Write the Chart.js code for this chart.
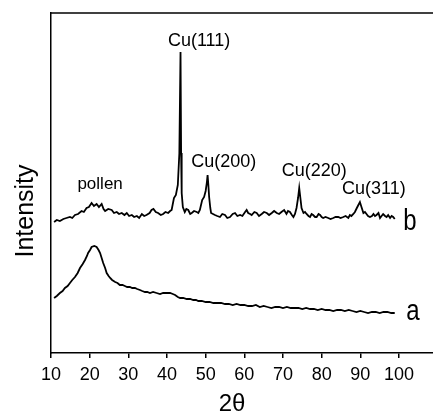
<!DOCTYPE html>
<html>
<head>
<meta charset="utf-8">
<script src="https://cdn.jsdelivr.net/npm/chart.js@4.4.0/dist/chart.umd.min.js"></script>
<style>
  body { margin: 0; background: #fff; }
  #wrap { width: 433px; height: 414px; }
</style>
</head>
<body>
<div id="wrap"><canvas id="xrd"></canvas></div>
<script>
// x-axis tick labels (2 theta)
const xTicks = [10, 20, 30, 40, 50, 60, 70, 80, 90, 100];

// curve b: Cu on pollen (2 theta, intensity in arbitrary units)
const bTheta = [10.8, 11.5, 12.3, 13.2, 14.0, 14.9, 15.5, 16.2, 17.0, 17.9, 18.5, 19.2, 19.8, 20.5, 21.1, 21.8, 22.4, 23.1, 23.6, 24.0,
  24.8, 25.7, 26.3, 27.0, 27.6, 28.3, 29.0, 29.6, 30.2, 30.9, 31.5, 32.2, 32.8, 33.5, 34.1, 34.7, 35.5, 36.0, 36.5, 37.1,
  37.7, 38.4, 39.0, 39.6, 40.3, 40.8, 41.2, 41.8, 42.3, 42.8, 43.2, 43.5, 43.65, 43.8, 44.1, 44.6, 45.0, 45.5, 46.0, 46.4,
  47.0, 47.7, 48.1, 48.5, 49.1, 49.6, 50.0, 50.3, 50.5, 50.7, 50.9, 51.2, 51.4, 51.9, 52.4, 53.0, 53.7, 54.3, 55.0, 55.6,
  56.3, 57.0, 57.6, 58.2, 58.9, 59.5, 60.2, 60.6, 61.0, 61.5, 61.9, 62.6, 63.2, 63.8, 64.5, 65.1, 65.8, 66.4, 67.1, 67.7,
  68.4, 69.0, 69.6, 70.3, 70.9, 71.3, 71.8, 72.3, 72.7, 73.1, 73.5, 73.9, 74.2, 74.5, 74.8, 75.3, 75.7, 76.1, 76.6, 77.0,
  77.4, 77.8, 78.3, 78.7, 79.2, 79.6, 80.0, 80.4, 81.0, 81.7, 82.3, 83.0, 83.6, 84.3, 84.9, 85.6, 86.2, 86.9, 87.3, 87.7,
  88.2, 88.6, 89.1, 89.5, 89.9, 90.3, 90.8, 91.2, 91.6, 92.0, 92.5, 93.0, 93.4, 93.8, 94.2, 94.7, 95.1, 95.5, 95.9, 96.4,
  96.8, 97.2, 97.7, 98.1, 98.5, 98.9];
const bIntensity = [131, 133, 132, 134, 135, 136, 135, 138, 139, 142, 141, 145, 146, 150, 147, 149, 146, 149, 144, 142,
  144, 143, 140, 141, 139, 140, 138, 140, 137, 138, 136, 137, 135, 139, 137, 138, 140, 143, 144, 141,
  140, 138, 139, 141, 140, 142, 143, 155, 158, 168, 200, 301, 200, 160, 146, 141, 144, 143, 139, 140,
  142, 141, 140, 143, 153, 156, 162, 170, 178, 168, 156, 145, 140, 139, 138, 137, 136, 139, 138, 135,
  136, 139, 140, 137, 138, 137, 141, 143, 140, 139, 138, 141, 140, 137, 139, 141, 140, 138, 140, 142,
  140, 139, 141, 143, 139, 142, 141, 138, 136, 139, 145, 155, 165, 155, 145, 140, 141, 139, 137, 136,
  139, 138, 136, 136, 139, 138, 136, 135, 136, 135, 134, 135, 136, 136, 135, 136, 137, 135, 138, 137,
  139, 141, 145, 148, 151, 146, 140, 141, 139, 137, 136, 137, 139, 137, 138, 140, 135, 137, 139, 137,
  136, 138, 135, 137, 136, 134];

// curve a: pollen only
const aTheta = [10.8, 11.5, 12.3, 13.0, 13.6, 14.3, 14.9, 15.5, 16.2, 16.9, 17.5, 18.2, 18.8, 19.3, 19.6, 20.1, 20.5, 21.2, 21.8, 22.3,
  22.7, 23.1, 23.5, 24.0, 24.4, 24.9, 25.3, 25.8, 26.6, 27.2, 27.8, 28.5, 29.1, 29.7, 30.4, 31.0, 31.7, 32.3, 33.0, 33.6,
  34.3, 34.9, 35.6, 36.4, 37.3, 38.2, 39.0, 39.9, 40.8, 41.5, 42.1, 42.8, 43.4, 44.2, 45.1, 46.0, 46.8, 47.5, 48.1, 49.0,
  50, 51, 52, 53, 54, 55, 56, 57, 58, 59, 60, 61, 62, 63, 64, 65, 66, 67, 68, 69,
  70, 71, 72, 73, 74, 75, 76, 77, 78, 79, 80, 81, 82, 83, 84, 85, 86, 87, 88, 89,
  90, 91, 92, 93, 94, 95, 96, 97, 98, 98.9];
const aIntensity = [55, 57, 60, 62, 65, 67, 70, 73, 76, 80, 85, 89, 93, 97, 100, 103, 106, 107, 106, 103,
  100, 95, 90, 85, 80, 77, 75, 73, 71, 70, 68, 68, 67, 66, 66, 65, 65, 64, 63, 62,
  61, 61, 60, 61, 60, 59, 60, 60, 60, 59, 58, 56, 55, 55, 54, 54, 53, 53, 52, 52,
  51, 51, 50, 50, 50, 49, 49, 48, 49, 48, 48, 47, 47, 48, 46, 47, 46, 45, 46, 46,
  45, 46, 45, 45, 45, 44, 45, 44, 44, 43, 44, 43, 43, 42, 43, 43, 42, 43, 42, 41,
  42, 41, 40, 41, 41, 40, 41, 41, 40, 40];

function toPoints(xs, ys) {
  return xs.map((x, i) => ({ x: x, y: ys[i] }));
}

// text drawn on the plot, anchored in data units
const notes = [
  { text: 'Cu(111)', x: 48.3, y: 312, size: 18 },
  { text: 'Cu(200)', x: 54.7, y: 191, size: 18 },
  { text: 'Cu(220)', x: 78.1, y: 182, size: 18 },
  { text: 'Cu(311)', x: 93.5, y: 164, size: 18 },
  { text: 'pollen', x: 22.7, y: 169, size: 17 },
  { text: 'b', x: 102.8, y: 131, size: 24, sy: 1.2 },
  { text: 'a', x: 103.6, y: 41, size: 24, sy: 1.2 },
];

const decor = {
  id: 'decor',
  afterDraw(chart) {
    const ctx = chart.ctx;
    const area = chart.chartArea;
    const xs = chart.scales.x;
    const ys = chart.scales.y;
    ctx.save();
    // top frame line
    ctx.strokeStyle = '#000';
    ctx.lineWidth = 1.5;
    ctx.beginPath();
    ctx.moveTo(area.left, area.top);
    ctx.lineTo(chart.width, area.top);
    ctx.stroke();

    ctx.fillStyle = '#000';
    ctx.textAlign = 'center';
    ctx.textBaseline = 'middle';
    notes.forEach((n) => {
      ctx.save();
      ctx.translate(xs.getPixelForValue(n.x), ys.getPixelForValue(n.y));
      ctx.scale(1, n.sy || 1);
      ctx.font = n.size + 'px "Liberation Sans", Arial, sans-serif';
      ctx.fillText(n.text, 0, 0);
      ctx.restore();
    });

    // axis titles
    ctx.save();
    ctx.font = '24px "Liberation Sans", Arial, sans-serif';
    ctx.fillText('2θ', 232, 404);
    ctx.restore();

    ctx.save();
    ctx.translate(26, 211);
    ctx.rotate(-Math.PI / 2);
    ctx.font = '25px "Liberation Sans", Arial, sans-serif';
    ctx.fillText('Intensity', 0, 0);
    ctx.restore();
    ctx.restore();
  }
};

const ctx = document.getElementById('xrd').getContext('2d');
new Chart(ctx, {
  type: 'line',
  data: {
    datasets: [
      {
        label: 'b',
        data: toPoints(bTheta, bIntensity),
        borderColor: '#000',
        borderWidth: 1.8,
        pointRadius: 0,
        tension: 0,
      },
      {
        label: 'a',
        data: toPoints(aTheta, aIntensity),
        borderColor: '#000',
        borderWidth: 1.8,
        pointRadius: 0,
        tension: 0,
      },
    ],
  },
  options: {
    responsive: true,
    maintainAspectRatio: false,
    animation: false,
    layout: { padding: { top: 13, right: 0, left: 0, bottom: 0 } },
    scales: {
      x: {
        type: 'linear',
        min: 10,
        max: 108.8,
        afterBuildTicks: (scale) => {
          scale.ticks = xTicks.map((v) => ({ value: v }));
        },
        afterFit: (scale) => { scale.height = 61; },
        grid: {
          display: true,
          drawOnChartArea: false,
          drawTicks: true,
          tickLength: 5,
          color: '#000',
          lineWidth: 1.5,
        },
        border: { display: true, color: '#000', width: 1.5 },
        ticks: {
          color: '#000',
          padding: 6,
          maxRotation: 0,
          autoSkip: false,
          font: { family: '"Liberation Sans", Arial, sans-serif', size: 18 },
        },
      },
      y: {
        type: 'linear',
        min: 0,
        max: 340,
        afterFit: (scale) => { scale.width = 51; },
        grid: { display: false },
        border: { display: true, color: '#000', width: 1.5 },
        ticks: { display: false },
      },
    },
    plugins: {
      legend: { display: false },
      tooltip: { enabled: false },
    },
  },
  plugins: [decor],
});
</script>
</body>
</html>
